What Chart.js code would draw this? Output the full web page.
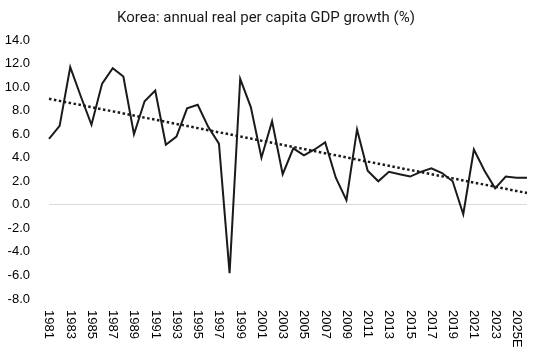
<!DOCTYPE html>
<html>
<head>
<meta charset="utf-8">
<script src="https://cdn.jsdelivr.net/npm/chart.js@4.4.1/dist/chart.umd.min.js"></script>
<style>
  html, body { margin: 0; padding: 0; background: #fff; }
  #wrap { width: 540px; height: 351px; }
</style>
</head>
<body>
<div id="wrap"><canvas id="chart"></canvas></div>
<script>
const years = [
  "1981", "1982", "1983", "1984", "1985", "1986", "1987", "1988", "1989", "1990",
  "1991", "1992", "1993", "1994", "1995", "1996", "1997", "1998", "1999", "2000",
  "2001", "2002", "2003", "2004", "2005", "2006", "2007", "2008", "2009", "2010",
  "2011", "2012", "2013", "2014", "2015", "2016", "2017", "2018", "2019", "2020",
  "2021", "2022", "2023", "2024", "2025E", "2026E",
];

// real per capita GDP growth, %
const growth = [
  5.6, 6.7, 11.7, 9.2, 6.8, 10.3, 11.6, 10.9, 6.0, 8.8,
  9.7, 5.1, 5.8, 8.2, 8.5, 6.6, 5.2, -5.8, 10.7, 8.3,
  4.0, 7.1, 2.6, 4.8, 4.2, 4.7, 5.3, 2.3, 0.4, 6.4,
  2.9, 2.0, 2.8, 2.6, 2.4, 2.8, 3.1, 2.7, 2.0, -0.8,
  4.7, 2.9, 1.4, 2.4, 2.3, 2.3,
];

const yTicks = { min: -8, max: 14, step: 2 };

// linear trend (least squares), like the spreadsheet trendline
function linearTrend(values) {
  const n = values.length;
  let sx = 0, sy = 0, sxx = 0, sxy = 0;
  values.forEach((v, i) => {
    sx += i; sy += v; sxx += i * i; sxy += i * v;
  });
  const slope = (n * sxy - sx * sy) / (n * sxx - sx * sx);
  const intercept = (sy - slope * sx) / n;
  return values.map((_, i) => intercept + slope * i);
}

const trend = linearTrend(growth);

// x labels read top-to-bottom, every second year
const verticalLabels = {
  id: "verticalLabels",
  afterDraw(chart) {
    const { ctx, chartArea } = chart;
    const xScale = chart.scales.x;
    ctx.save();
    ctx.font = "13px 'Liberation Sans', Arial, sans-serif";
    ctx.fillStyle = "#000";
    ctx.textAlign = "left";
    ctx.textBaseline = "middle";
    years.forEach((label, i) => {
      if (i % 2 !== 0) return;
      const x = xScale.getPixelForValue(i);
      ctx.save();
      ctx.translate(x, chartArea.bottom + 11);
      ctx.rotate(Math.PI / 2);
      ctx.fillText(label, 0, 0);
      ctx.restore();
    });
    ctx.restore();
  },
};

new Chart(document.getElementById("chart"), {
  type: "line",
  data: {
    labels: years,
    datasets: [
      {
        label: "Growth",
        data: growth,
        borderColor: "#1a1a1a",
        borderWidth: 2,
        pointRadius: 0,
        tension: 0,
      },
      {
        label: "Trend",
        data: trend,
        borderColor: "#1a1a1a",
        borderWidth: 2.5,
        borderDash: [2.5, 2.5],
        pointRadius: 0,
      },
    ],
  },
  options: {
    responsive: true,
    maintainAspectRatio: false,
    animation: false,
    layout: { padding: { left: 5, right: 13, top: 0, bottom: 52 } },
    plugins: {
      legend: { display: false },
      tooltip: { enabled: false },
      title: {
        display: true,
        text: "Korea: annual real per capita GDP growth (%)",
        color: "#1a1a1a",
        font: { family: "Roboto", size: 15, weight: "normal" },
        padding: { top: 9, bottom: 13 },
      },
    },
    scales: {
      x: {
        display: false,
        offset: false,
      },
      y: {
        min: yTicks.min,
        max: yTicks.max,
        border: { display: false },
        grid: {
          drawTicks: false,
          color: (c) => (c.tick && c.tick.value === 0 ? "#d9d9d9" : "rgba(0,0,0,0)"),
        },
        ticks: {
          stepSize: yTicks.step,
          padding: 19,
          color: "#000",
          font: { family: "'Liberation Sans', Arial, sans-serif", size: 13 },
          callback: (v) => Number(v).toFixed(1),
        },
        afterFit: (scale) => { scale.width = 44; },
      },
    },
  },
  plugins: [verticalLabels],
});
</script>
</body>
</html>
